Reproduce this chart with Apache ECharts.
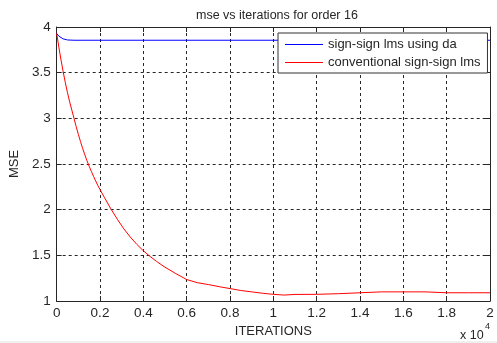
<!DOCTYPE html>
<html><head><meta charset="utf-8">
<script src="https://cdn.jsdelivr.net/npm/echarts@6/dist/echarts.min.js"></script>
<style>html,body{margin:0;padding:0;background:#fff}#c{width:497px;height:343px}</style>
</head><body><div id="c"></div>
<script>
// x values in units of 10^4 iterations
var xTicks = ['0','0.2','0.4','0.6','0.8','1','1.2','1.4','1.6','1.8','2'];
var yTicks = ['1','1.5','2','2.5','3','3.5','4'];
var seriesNames = ['sign-sign lms using da', 'conventional sign-sign lms'];

var blueX = [0, 0.01, 0.02, 0.03, 0.05, 0.08, 0.2, 0.5, 1.0, 1.5, 2.0];
var blueY = [3.93, 3.90, 3.885, 3.87, 3.858, 3.855, 3.855, 3.855, 3.855, 3.855, 3.855];

var redX = [0, 0.01, 0.02, 0.03, 0.04, 0.05, 0.06, 0.07, 0.08, 0.09, 0.1, 0.11, 0.12, 0.13, 0.14, 0.15, 0.16, 0.17, 0.18, 0.19, 0.2, 0.22, 0.25, 0.28, 0.31, 0.34, 0.37, 0.4, 0.43, 0.46, 0.5, 0.55, 0.6, 0.65, 0.7, 0.75, 0.8, 0.85, 0.9, 0.95, 1.0, 1.05, 1.1, 1.2, 1.3, 1.4, 1.5, 1.6, 1.7, 1.8, 1.9, 2.0];
var redY = [3.93, 3.78, 3.64, 3.51, 3.39, 3.28, 3.18, 3.09, 3.0, 2.91, 2.825, 2.745, 2.67, 2.60, 2.535, 2.475, 2.42, 2.365, 2.315, 2.265, 2.22, 2.135, 2.01, 1.895, 1.79, 1.70, 1.62, 1.55, 1.49, 1.435, 1.37, 1.30, 1.235, 1.20, 1.18, 1.157, 1.136, 1.115, 1.10, 1.085, 1.073, 1.065, 1.072, 1.073, 1.08, 1.09, 1.10, 1.10, 1.10, 1.09, 1.09, 1.09];

function zip(a, b) { return a.map(function (v, i) { return [v, b[i]]; }); }

var txt = '#262626';
var font = 'Arial, "Liberation Sans", sans-serif';
var lineIcon = 'path://M0,0 L38,0 L38,1 L0,1 Z';
var chart = echarts.init(document.getElementById('c'));
chart.setOption({
  backgroundColor: '#ffffff',
  animation: false,
  title: {
    text: 'mse vs iterations for order 16',
    left: 191, top: 4,
    textStyle: { fontSize: 12.5, fontWeight: 'normal', color: txt, fontFamily: font }
  },
  grid: { left: 56, right: 7, top: 27, bottom: 42 },
  legend: {
    orient: 'vertical',
    left: 278, top: 33,
    padding: [5, 7, 4, 7],
    itemWidth: 38, itemHeight: 14, itemGap: 5,
    backgroundColor: '#fff',
    borderColor: '#333', borderWidth: 1,
    textStyle: { fontSize: 13, color: txt, fontFamily: font },
    data: [{ name: seriesNames[0], icon: lineIcon }, { name: seriesNames[1], icon: lineIcon }]
  },
  xAxis: [{
    type: 'value', min: 0, max: 2, interval: 0.2,
    name: 'ITERATIONS', nameLocation: 'middle', nameGap: 21,
    nameTextStyle: { fontSize: 13, color: txt, fontFamily: font },
    axisLine: { show: true, onZero: false, lineStyle: { color: '#262626', width: 1 } },
    axisTick: { show: true, inside: true, length: 5, lineStyle: { color: '#262626' } },
    axisLabel: { fontSize: 13.5, color: txt, fontFamily: font, margin: 5,
      formatter: function (v) { var i = Math.round(v / 0.2); return xTicks[i] || ''; } },
    splitLine: { show: true, lineStyle: { color: '#262626', type: [3, 3], width: 1 } }
  }, {
    type: 'value', min: 0, max: 2, interval: 0.2, position: 'top',
    axisLine: { show: true, onZero: false, lineStyle: { color: '#262626', width: 1 } },
    axisTick: { show: true, inside: true, length: 5, lineStyle: { color: '#262626' } },
    axisLabel: { show: false }, splitLine: { show: false }
  }],
  yAxis: [{
    type: 'value', min: 1, max: 4, interval: 0.5,
    name: 'MSE', nameLocation: 'middle', nameGap: 33, nameRotate: 90,
    nameTextStyle: { fontSize: 13, color: txt, fontFamily: font },
    axisLine: { show: true, onZero: false, lineStyle: { color: '#262626', width: 1 } },
    axisTick: { show: true, inside: true, length: 5, lineStyle: { color: '#262626' } },
    axisLabel: { fontSize: 13.5, color: txt, fontFamily: font, margin: 6,
      formatter: function (v) { var i = Math.round((v - 1) / 0.5); return yTicks[i] || ''; } },
    splitLine: { show: true, lineStyle: { color: '#262626', type: [3, 3], width: 1 } }
  }, {
    type: 'value', min: 1, max: 4, interval: 0.5, position: 'right',
    axisLine: { show: true, onZero: false, lineStyle: { color: '#262626', width: 1 } },
    axisTick: { show: true, inside: true, length: 5, lineStyle: { color: '#262626' } },
    axisLabel: { show: false }, splitLine: { show: false }
  }],
  series: [{
    name: seriesNames[0], type: 'line', xAxisIndex: 0, yAxisIndex: 0,
    showSymbol: false, symbol: 'none',
    lineStyle: { color: '#0000ff', width: 1 }, itemStyle: { color: '#0000ff' },
    data: zip(blueX, blueY), z: 3
  }, {
    name: seriesNames[1], type: 'line', xAxisIndex: 0, yAxisIndex: 0,
    showSymbol: false, symbol: 'none',
    lineStyle: { color: '#ff0000', width: 1 }, itemStyle: { color: '#ff0000' },
    data: zip(redX, redY), z: 4
  }],
  graphic: [
    { type: 'text', left: 460, top: 329, style: { text: 'x 10', fontSize: 12.5, fill: txt, fontFamily: font } },
    { type: 'text', left: 485, top: 322, style: { text: '4', fontSize: 9, fill: txt, fontFamily: font } },
    { type: 'rect', shape: { x: 0, y: 341, width: 497, height: 2 }, style: { fill: '#f0f0f0' } }
  ]
});
</script></body></html>
